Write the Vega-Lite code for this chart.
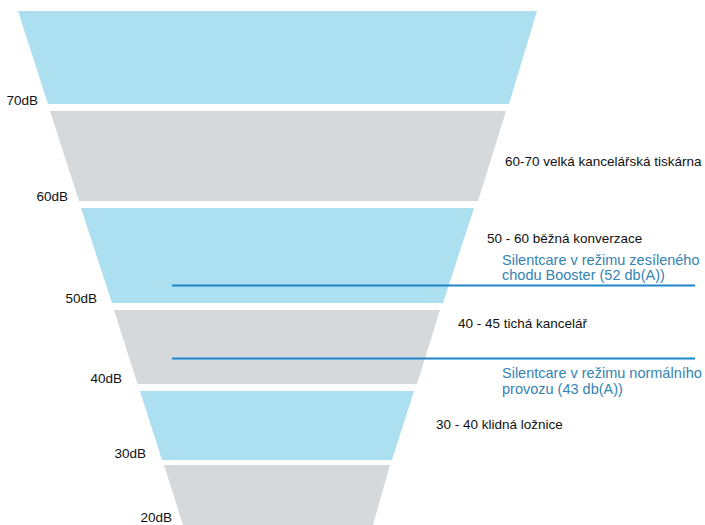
{
  "$schema": "https://vega.github.io/schema/vega-lite/v6.json",
  "width": 705,
  "height": 525,
  "autosize": {"type": "none"},
  "padding": 0,
  "background": "white",
  "config": {"view": {"stroke": null}, "text": {"font": "Liberation Sans"}},
  "datasets": {
    "bands": [
      {"band": "70-80", "kind": "blue", "y": 11, "left": 18, "right": 537},
      {"band": "70-80", "kind": "blue", "y": 104, "left": 48, "right": 509},
      {"band": "60-70", "kind": "gray", "y": 111, "left": 50, "right": 506},
      {"band": "60-70", "kind": "gray", "y": 201, "left": 79, "right": 478},
      {"band": "50-60", "kind": "blue", "y": 208, "left": 81, "right": 474},
      {"band": "50-60", "kind": "blue", "y": 303, "left": 112, "right": 443},
      {"band": "40-50", "kind": "gray", "y": 310, "left": 114, "right": 440},
      {"band": "40-50", "kind": "gray", "y": 384, "left": 137.5, "right": 417},
      {"band": "30-40", "kind": "blue", "y": 391, "left": 140, "right": 414},
      {"band": "30-40", "kind": "blue", "y": 460, "left": 162, "right": 392},
      {"band": "20-30", "kind": "gray", "y": 465, "left": 164, "right": 390},
      {"band": "20-30", "kind": "gray", "y": 525, "left": 183, "right": 373}
    ],
    "levels": [
      {"label": "70dB", "x": 38, "y": 101},
      {"label": "60dB", "x": 68, "y": 197},
      {"label": "50dB", "x": 97, "y": 299},
      {"label": "40dB", "x": 122, "y": 379},
      {"label": "30dB", "x": 146, "y": 454},
      {"label": "20dB", "x": 172, "y": 517.5}
    ],
    "notes": [
      {"label": "60-70 velká kancelářská tiskárna", "x": 505, "y": 162},
      {"label": "50 - 60 běžná konverzace", "x": 487, "y": 239},
      {"label": "40 - 45 tichá kancelář", "x": 458, "y": 324},
      {"label": "30 - 40 klidná ložnice", "x": 436, "y": 425}
    ],
    "markers": [
      {"name": "Booster 52 dB(A)", "x": 172, "x2": 695, "y": 285.5},
      {"name": "Normální 43 dB(A)", "x": 172, "x2": 695, "y": 358.5}
    ],
    "markerText": [
      {"label": "Silentcare v režimu zesíleného", "x": 502, "y": 261},
      {"label": "chodu Booster (52 db(A))", "x": 502, "y": 276},
      {"label": "Silentcare v režimu normálního", "x": 502, "y": 374},
      {"label": "provozu (43 db(A))", "x": 502, "y": 390}
    ]
  },
  "layer": [
    {
      "data": {"name": "bands"},
      "mark": {"type": "area", "orient": "horizontal", "interpolate": "linear", "clip": true},
      "encoding": {
        "y": {"field": "y", "type": "quantitative", "scale": {"domain": [0, 525], "reverse": true, "nice": false, "zero": false}, "axis": null},
        "x": {"field": "left", "type": "quantitative", "scale": {"domain": [0, 705], "nice": false, "zero": false}, "axis": null},
        "x2": {"field": "right"},
        "detail": {"field": "band"},
        "color": {"field": "kind", "type": "nominal", "scale": {"domain": ["blue", "gray"], "range": ["#acdff0", "#d5d9dc"]}, "legend": null}
      }
    },
    {
      "data": {"name": "markers"},
      "mark": {"type": "rule", "color": "#1a86c9", "strokeWidth": 2},
      "encoding": {
        "y": {"field": "y", "type": "quantitative"},
        "x": {"field": "x", "type": "quantitative"},
        "x2": {"field": "x2"}
      }
    },
    {
      "data": {"name": "levels"},
      "mark": {"type": "text", "align": "right", "baseline": "middle", "fontSize": 13.5, "color": "#111111"},
      "encoding": {
        "y": {"field": "y", "type": "quantitative"},
        "x": {"field": "x", "type": "quantitative"},
        "text": {"field": "label", "type": "nominal"}
      }
    },
    {
      "data": {"name": "notes"},
      "mark": {"type": "text", "align": "left", "baseline": "middle", "fontSize": 13.5, "color": "#111111"},
      "encoding": {
        "y": {"field": "y", "type": "quantitative"},
        "x": {"field": "x", "type": "quantitative"},
        "text": {"field": "label", "type": "nominal"}
      }
    },
    {
      "data": {"name": "markerText"},
      "mark": {"type": "text", "align": "left", "baseline": "middle", "fontSize": 14.5, "color": "#3584b3"},
      "encoding": {
        "y": {"field": "y", "type": "quantitative"},
        "x": {"field": "x", "type": "quantitative"},
        "text": {"field": "label", "type": "nominal"}
      }
    }
  ]
}
